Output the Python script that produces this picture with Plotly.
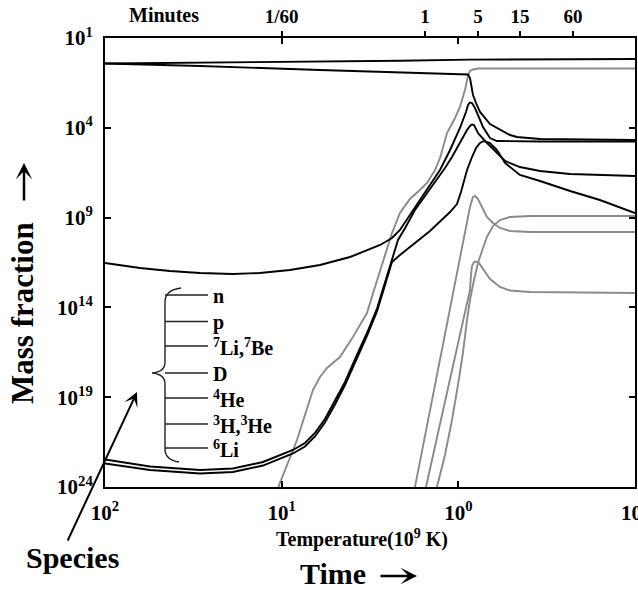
import plotly.graph_objects as go

# Temperature in units of 10^9 K, mass fractions (dimensionless)

# protons
T_p = [100, 29.0, 6.07, 2.14, 0.859, 0.303, 0.1]
X_p = [0.38, 0.416, 0.479, 0.544, 0.627, 0.66, 0.678]

# neutrons
T_n = [100, 29.0, 6.07, 2.14, 0.979, 0.881, 0.859, 0.826, 0.794, 0.754,
       0.662, 0.604, 0.510, 0.466, 0.345, 0.1]
X_n = [0.38, 0.276, 0.165, 0.123, 0.1016, 0.0929, 0.0593, 6.7e-3, 2.4e-3, 7.6e-4,
       1.63e-4, 9.75e-5, 3.97e-5, 3.08e-5, 2.38e-5, 2.09e-5]

# deuterium
T_D = [100, 63.4, 42.9, 29.0, 18.9, 13.3, 8.98, 6.07, 4.10, 2.77, 2.375, 2.14,
       1.88, 1.65, 1.447, 1.27, 1.114, 0.979, 0.905, 0.881, 0.859, 0.837, 0.805,
       0.784, 0.725, 0.662, 0.604, 0.345, 0.1]
X_D = [2.96e-12, 1.56e-12, 1.06e-12, 8.2e-13, 7.24e-13, 8.2e-13, 1.21e-12,
       2.30e-12, 6.40e-12, 2.98e-11, 7.31e-11, 2.04e-10, 1.40e-9, 9.55e-9,
       6.53e-8, 4.47e-7, 5.81e-6, 9.75e-5, 7.59e-4, 1.86e-3, 2.56e-3, 2.40e-3,
       1.26e-3, 6.67e-4, 1.11e-4, 2.70e-5, 1.84e-5, 1.73e-5, 1.73e-5]

# tritium
T_H3 = [100, 55.6, 29.0, 18.9, 12.76, 8.63, 7.38, 6.48, 5.69, 4.99, 4.38, 3.75,
        3.29, 2.88, 2.60, 2.375, 2.195, 2.00, 1.76, 1.545, 1.355, 1.19, 1.086,
        1.005, 0.942, 0.893, 0.859, 0.837, 0.815, 0.774, 0.706, 0.620, 0.544,
        0.448, 0.345, 0.233, 0.1]
X_H3 = [3.40e-23, 1.38e-23, 8.85e-24, 1.07e-23, 2.47e-23, 1.15e-22, 2.82e-22,
        1.02e-21, 6.11e-21, 6.14e-20, 7.02e-19, 2.24e-17, 3.76e-16, 9.27e-15,
        2.59e-13, 5.64e-12, 5.66e-11, 2.64e-10, 2.65e-9, 1.60e-8, 9.6e-8,
        5.78e-7, 2.37e-6, 9.7e-6, 3.08e-5, 7.55e-5, 1.26e-4, 1.53e-4, 1.43e-4,
        5.13e-5, 1.84e-5, 5.11e-6, 1.42e-6, 6.56e-7, 3.94e-7, 2.68e-7, 2.07e-7]

# helium-3
T_He3 = [100, 55.6, 29.0, 18.9, 12.76, 8.63, 7.38, 6.48, 5.69, 4.99, 4.38, 3.75,
         3.29, 2.88, 2.60, 2.375, 2.14, 1.88, 1.447, 1.114, 1.018, 0.966, 0.929,
         0.893, 0.837, 0.794, 0.754, 0.716, 0.662, 0.604, 0.544, 0.448, 0.345,
         0.233, 0.158, 0.1]
X_He3 = [2.03e-23, 8.85e-24, 5.65e-24, 6.84e-24, 1.57e-23, 7.33e-23, 1.80e-22,
         6.49e-22, 3.90e-21, 3.93e-20, 4.78e-19, 1.52e-17, 2.56e-16, 6.31e-15,
         1.56e-13, 3.37e-12, 8.28e-12, 2.31e-11, 1.79e-10, 2.05e-9, 5.71e-9,
         2.66e-8, 1.24e-7, 4.47e-7, 2.37e-6, 7.50e-6, 1.43e-5, 1.84e-5, 1.43e-5,
         5.81e-6, 1.10e-6, 2.36e-7, 1.09e-7, 3.03e-8, 9.55e-9, 1.80e-9]

# helium-4
T_He4 = [11.64, 10.5, 8.19, 6.65, 6.07, 5.54, 5.12, 4.68, 3.95, 3.29, 3.00,
         2.535, 2.375, 2.14, 1.88, 1.65, 1.504, 1.355, 1.27, 1.159, 1.044, 0.979,
         0.917, 0.881, 0.859, 0.826, 0.774, 0.1]
X_He4 = [6.78e-26, 8.79e-25, 4.14e-22, 2.52e-19, 1.33e-18, 4.23e-18, 8.02e-18,
         1.73e-17, 2.25e-16, 4.88e-15, 9.31e-14, 1.57e-11, 1.39e-10, 1.80e-9,
         1.09e-8, 3.44e-8, 8.45e-8, 4.47e-7, 2.08e-6, 5.13e-5, 3.52e-4, 1.44e-3,
         0.0127, 0.0871, 0.1455, 0.176, 0.200, 0.200]

# beryllium-7
T_Be7 = [1.829, 1.76, 1.447, 1.19, 1.005, 0.905, 0.859, 0.826, 0.805, 0.774,
         0.735, 0.689, 0.637, 0.581, 0.510, 0.393, 0.1]
X_Be7 = [1.46e-25, 1.0e-24, 1.94e-20, 3.76e-16, 1.56e-12, 2.64e-10, 3.89e-9,
         1.40e-8, 1.60e-8, 1.09e-8, 3.89e-9, 1.08e-9, 5.0e-10, 2.64e-10,
         1.79e-10, 1.58e-10, 1.58e-10]

# lithium-6
T_Li6 = [1.574, 1.524, 1.27, 1.044, 0.917, 0.859, 0.848, 0.837, 0.815, 0.794,
         0.764, 0.716, 0.662, 0.581, 0.510, 0.393, 0.1]
X_Li6 = [1.89e-25, 1.0e-24, 3.22e-21, 1.73e-17, 5.55e-15, 9.31e-14, 6.37e-13,
         2.02e-12, 3.37e-12, 3.60e-12, 2.96e-12, 1.21e-12, 3.81e-13, 1.37e-13,
         8.73e-14, 7.20e-14, 6.34e-14]

# lithium-7
T_Li7 = [1.338, 1.321, 1.19, 1.086, 1.005, 0.942, 0.893, 0.859, 0.815, 0.774,
         0.725, 0.689, 0.637, 0.581, 0.510, 0.393, 0.1]
X_Li7 = [3.59e-25, 1.0e-24, 6.05e-23, 5.38e-21, 4.78e-19, 2.89e-17, 1.99e-15,
         2.58e-14, 3.36e-13, 2.96e-12, 2.03e-11, 8.32e-11, 3.40e-10, 7.35e-10,
         1.08e-9, 1.23e-9, 1.23e-9]

# axis ticks
temp_ticks = [100, 10, 1, 0.1]
temp_labels = ["10<sup>2</sup>", "10<sup>1</sup>", "10<sup>0</sup>", "10<sup>1</sup>"]
frac_ticks = [10, 1e-4, 1e-9, 1e-14, 1e-19, 1e-24]
frac_labels = ["10<sup>1</sup>", "10<sup>4</sup>", "10<sup>9</sup>",
               "10<sup>14</sup>", "10<sup>19</sup>", "10<sup>24</sup>"]
minute_ticks = [10, 1.545, 0.774, 0.448, 0.224]
minute_labels = ["1/60", "1", "5", "15", "60"]

species_labels = ["n", "p", "<sup>7</sup>Li,<sup>7</sup>Be", "D", "<sup>4</sup>He",
                  "<sup>3</sup>H,<sup>3</sup>He", "<sup>6</sup>Li"]

BLACK = "#000000"
GRAY = "#8a8a8a"
FONT = "Liberation Serif"

fig = go.Figure()

curves = [
    ("4He", T_He4, X_He4, GRAY),
    ("7Be", T_Be7, X_Be7, GRAY),
    ("6Li", T_Li6, X_Li6, GRAY),
    ("7Li", T_Li7, X_Li7, GRAY),
    ("p", T_p, X_p, BLACK),
    ("n", T_n, X_n, BLACK),
    ("D", T_D, X_D, BLACK),
    ("3H", T_H3, X_H3, BLACK),
    ("3He", T_He3, X_He3, BLACK),
]
for name, T, X, col in curves:
    fig.add_trace(go.Scatter(x=T, y=X, mode="lines", name=name,
                             line=dict(color=col, width=1.9),
                             hoverinfo="skip", showlegend=False))

# the proton curve again, invisible, so the time axis on top gets drawn
fig.add_trace(go.Scatter(x=T_p, y=X_p, xaxis="x2", mode="lines",
                         line=dict(width=0), opacity=0,
                         hoverinfo="skip", showlegend=False))

# plot-area geometry in pixels (used to place the decorations)
L, R, TOP, BOT = 105, 635, 38, 487


def fx(p):
    return (p - L) / (R - L)


def fy(p):
    return (BOT - p) / (BOT - TOP)


shapes = []
# species key: short lines and a curly brace
row_y = [295, 321.5, 346, 373, 398, 424, 448]
for yy in row_y:
    shapes.append(dict(type="line", xref="paper", yref="paper",
                       x0=fx(165), x1=fx(208), y0=fy(yy), y1=fy(yy),
                       line=dict(color="#222222", width=1.4)))


def pt(a, b):
    return f"{fx(a):.5f},{fy(b):.5f}"


brace = ("M " + pt(181, 288) + " Q " + pt(165, 290) + " " + pt(165, 302) +
         " L " + pt(165, 362) + " Q " + pt(165, 372) + " " + pt(152, 373) +
         " Q " + pt(165, 374) + " " + pt(165, 384) +
         " L " + pt(165, 449) + " Q " + pt(165, 460) + " " + pt(179, 462))
shapes.append(dict(type="path", xref="paper", yref="paper", path=brace,
                   line=dict(color="#222222", width=1.4)))

annotations = []
for yy, lab in zip(row_y, species_labels):
    annotations.append(dict(xref="paper", yref="paper", x=fx(211), y=fy(yy + 1),
                            xanchor="left", yanchor="middle", showarrow=False,
                            text=lab, font=dict(size=20)))

annotations += [
    # last temperature label sits on the right edge of the page
    dict(xref="x", yref="paper", x=-1, y=fy(512), text=temp_labels[-1],
         showarrow=False, xanchor="center", yanchor="middle", font=dict(size=21)),
    dict(xref="paper", yref="paper", x=fx(164), y=fy(15), text="Minutes",
         showarrow=False, xanchor="center", yanchor="middle", font=dict(size=20)),
    dict(xref="paper", yref="paper", x=fx(362), y=fy(538),
         text="Temperature(10<sup>9</sup> K)", showarrow=False,
         xanchor="center", yanchor="middle", font=dict(size=20)),
    dict(xref="paper", yref="paper", x=fx(333), y=fy(573), text="Time",
         showarrow=False, xanchor="center", yanchor="middle", font=dict(size=30)),
    dict(xref="paper", yref="paper", x=fx(417), y=fy(576), text="",
         showarrow=True, ax=-38, ay=0, arrowhead=3, arrowsize=1.1,
         arrowwidth=2.5, arrowcolor="black"),
    dict(xref="paper", yref="paper", x=fx(22), y=fy(313), text="Mass fraction",
         textangle=-90, showarrow=False, xanchor="center", yanchor="middle",
         font=dict(size=31)),
    dict(xref="paper", yref="paper", x=fx(24), y=fy(163), text="",
         showarrow=True, ax=0, ay=39, arrowhead=3, arrowsize=1.1,
         arrowwidth=2.5, arrowcolor="black"),
    dict(xref="paper", yref="paper", x=fx(72), y=fy(557), text="Species",
         showarrow=False, xanchor="center", yanchor="middle", font=dict(size=30)),
    dict(xref="paper", yref="paper", x=fx(137), y=fy(392), text="",
         showarrow=True, ax=-70, ay=150, arrowhead=3, arrowsize=1.2,
         arrowwidth=2, arrowcolor="black"),
]

axis_common = dict(showgrid=False, zeroline=False, tickcolor="black",
                   tickwidth=2, ticklen=6, automargin=False)

fig.update_layout(
    width=638, height=590,
    margin=dict(l=L, r=638 - R, t=TOP, b=590 - BOT, autoexpand=False),
    paper_bgcolor="white", plot_bgcolor="white",
    font=dict(family=FONT, color="black", size=19, weight="bold"),
    showlegend=False,
    xaxis=dict(type="log", range=[2, -1], tickmode="array", tickvals=temp_ticks[:-1],
               ticktext=temp_labels[:-1], ticks="inside", showline=True, linewidth=2,
               linecolor="black", mirror="ticks", tickfont=dict(size=21),
               ticklabelstandoff=6, **axis_common),
    xaxis2=dict(type="log", range=[2, -1], overlaying="x", side="top", anchor="y",
                tickmode="array", tickvals=minute_ticks, ticktext=minute_labels,
                ticks="outside", showline=False, tickfont=dict(size=19),
                **axis_common),
    yaxis=dict(type="log", range=[-24, 1], tickmode="array", tickvals=frac_ticks,
               ticktext=frac_labels, ticks="inside", showline=True, linewidth=2,
               linecolor="black", mirror="ticks", tickfont=dict(size=21),
               ticklabelstandoff=6, **axis_common),
    shapes=shapes,
    annotations=annotations,
)

fig.write_html("out.html")
